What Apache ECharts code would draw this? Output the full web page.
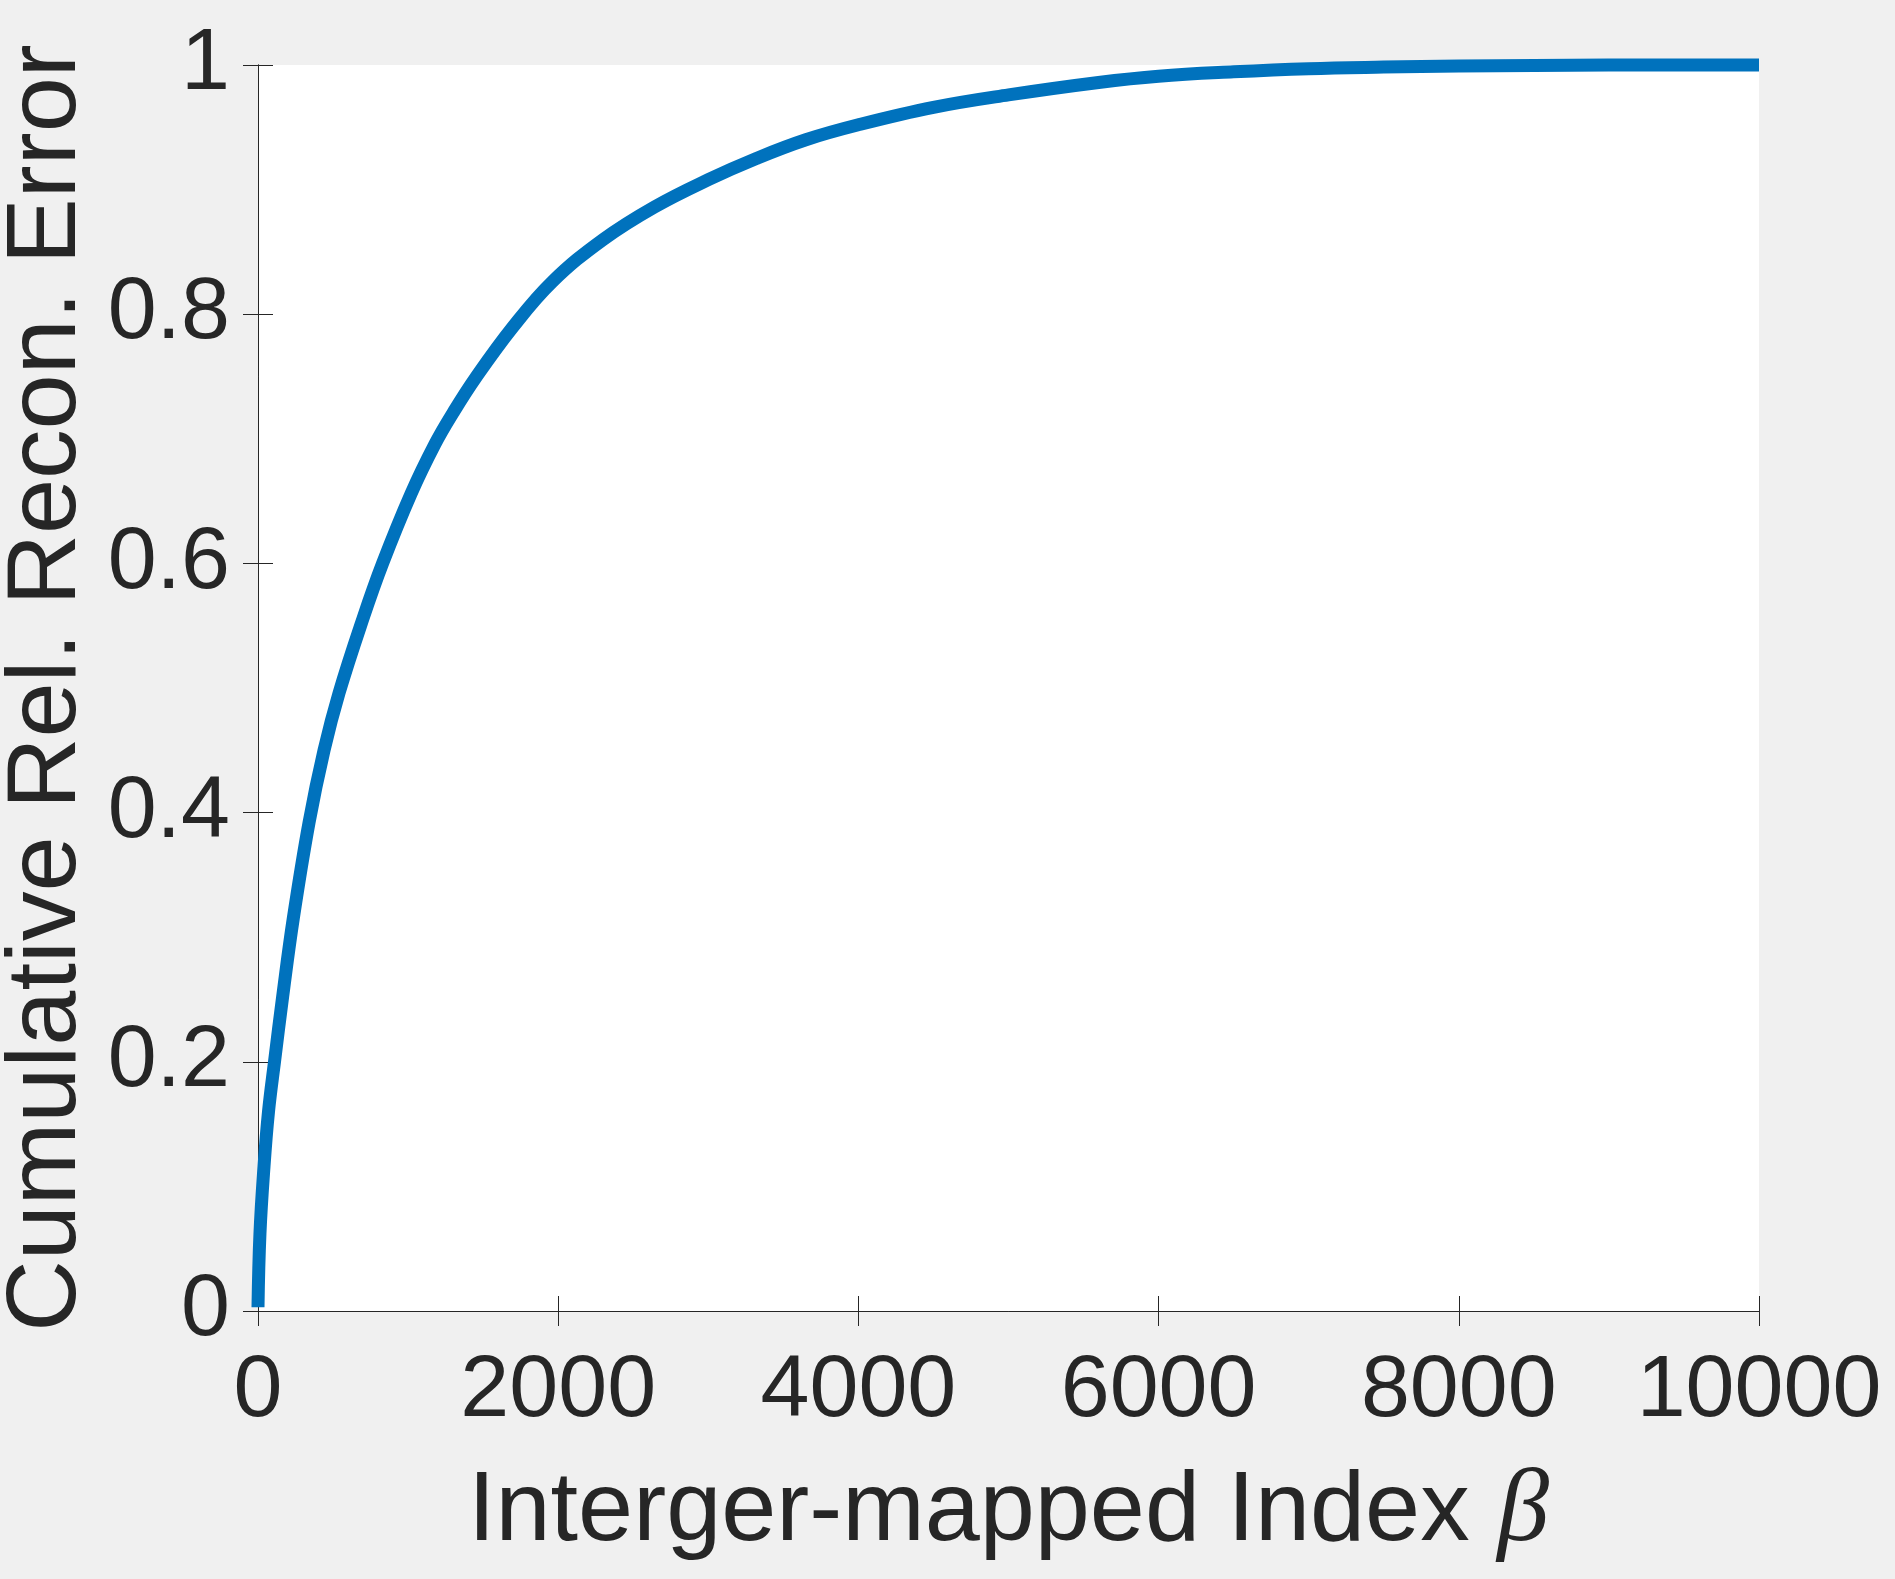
<!DOCTYPE html>
<html>
<head>
<meta charset="utf-8">
<title>Cumulative Rel. Recon. Error</title>
<script src="https://cdn.jsdelivr.net/npm/echarts@6/dist/echarts.min.js"></script>
<style>
  html, body { margin: 0; padding: 0; background: #f0f0f0; }
  #chart { width: 1895px; height: 1579px; }
</style>
</head>
<body>
<div id="chart"></div>
<script>
// index beta (x) and cumulative relative reconstruction error (y)
var betaIndex = [0, 13, 40, 70, 110, 165, 235, 340, 440, 540, 700, 830, 1020, 1180, 1300, 1450,
  1700, 1960, 2300, 2640, 3000, 3320, 3650, 4000, 4500, 5000, 5600, 6000, 6500, 7000,
  7500, 8000, 9000, 10000];
var cumError = [0.003, 0.062, 0.116, 0.16, 0.2, 0.253, 0.315, 0.392, 0.45, 0.496, 0.556, 0.6, 0.656,
  0.696, 0.721, 0.749, 0.79, 0.826, 0.86, 0.886, 0.908, 0.925, 0.94, 0.952, 0.966, 0.976,
  0.986, 0.991, 0.9945, 0.997, 0.9983, 0.9992, 0.9999, 1.0];

var xTicks = { min: 0, max: 10000, interval: 2000 };
var yTicks = { min: 0, max: 1, interval: 0.2 };

var axisColor = '#262626';
var fontMain = 'Liberation Sans, Arial, Helvetica, sans-serif';

var lineData = [];
for (var i = 0; i < betaIndex.length; i++) {
  lineData.push([betaIndex[i], cumError[i]]);
}

// plain numbers, no thousands separator
function plainLabel(v) {
  return String(v);
}

function boxAxis(extra) {
  var base = {
    type: 'value',
    splitLine: { show: false },
    axisLine: { show: true, lineStyle: { color: axisColor, width: 1 } },
    axisTick: { show: true, inside: true, length: 15, lineStyle: { color: axisColor, width: 1 } }
  };
  return Object.assign(base, extra);
}

var chart = echarts.init(document.getElementById('chart'));

var option = {
  backgroundColor: '#f0f0f0',
  animation: false,
  grid: {
    left: 258, top: 65, right: 136, bottom: 268,
    containLabel: false,
    outerBoundsMode: 'none',
    show: true,
    backgroundColor: '#ffffff',
    borderWidth: 0
  },
  xAxis: [
    boxAxis({
      position: 'bottom',
      min: xTicks.min, max: xTicks.max, interval: xTicks.interval,
      axisLabel: { show: true, color: axisColor, fontSize: 88, fontFamily: fontMain, margin: 37,
        showMinLabel: true, showMaxLabel: true, formatter: plainLabel },
      name: '{a|Interger-mapped Index }{b|β}',
      nameLocation: 'middle',
      nameGap: 152,
      nameTextStyle: {
        rich: {
          a: { fontSize: 99, fontFamily: fontMain, color: axisColor, lineHeight: 99 },
          b: { fontSize: 104, fontFamily: 'Liberation Serif, DejaVu Serif, serif', fontStyle: 'italic',
            color: axisColor, lineHeight: 99 }
        }
      }
    }),
    boxAxis({
      position: 'top',
      min: xTicks.min, max: xTicks.max, interval: xTicks.interval,
      axisLabel: { show: false }
    })
  ],
  yAxis: [
    boxAxis({
      position: 'left',
      min: yTicks.min, max: yTicks.max, interval: yTicks.interval,
      axisLabel: { show: true, color: axisColor, fontSize: 88, fontFamily: fontMain, margin: 28,
        showMinLabel: true, showMaxLabel: true, formatter: plainLabel },
      name: 'Cumulative Rel. Recon. Error',
      nameLocation: 'middle',
      nameGap: 148,
      nameTextStyle: { fontSize: 99, fontFamily: fontMain, color: axisColor, lineHeight: 99 }
    }),
    boxAxis({
      position: 'right',
      min: yTicks.min, max: yTicks.max, interval: yTicks.interval,
      axisLabel: { show: false }
    })
  ],
  series: [{
    type: 'line',
    xAxisIndex: 0,
    yAxisIndex: 0,
    data: lineData,
    showSymbol: false,
    smooth: 0.4,
    clip: false,
    lineStyle: { color: '#0072BD', width: 13, cap: 'butt', join: 'round' },
    itemStyle: { color: '#0072BD' }
  }]
};

chart.setOption(option);
</script>
</body>
</html>
